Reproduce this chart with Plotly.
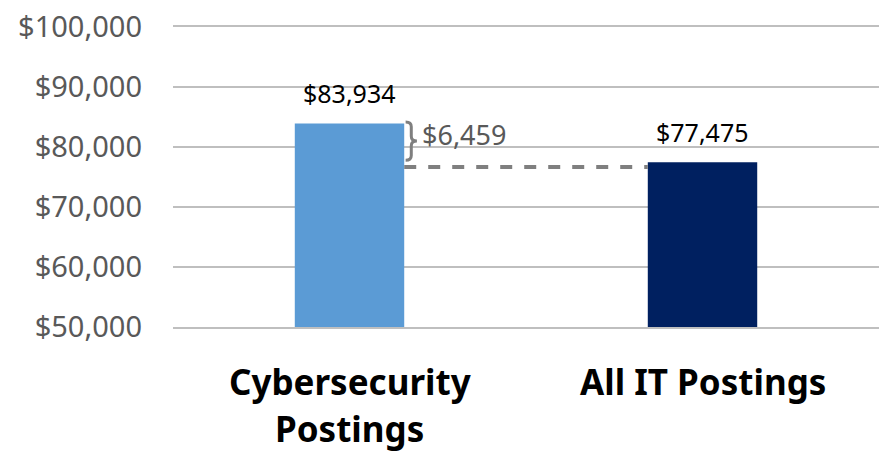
import plotly.graph_objects as go

categories = ["Cybersecurity Postings", "All IT Postings"]
label_lines = [["Cybersecurity", "Postings"], ["All IT Postings"]]
salaries = [83934, 77475]
bar_colors = ["#5B9BD5", "#002060"]
y_tick_vals = [50000, 60000, 70000, 80000, 90000, 100000]
y_tick_text = ["$50,000", "$60,000", "$70,000", "$80,000", "$90,000", "$100,000"]

FONT = "Noto Sans, Open Sans, sans-serif"
x_pos = list(range(len(categories)))
bar_w = 0.31
diff = salaries[0] - salaries[1]

fig = go.Figure()
fig.add_trace(go.Bar(
    x=x_pos, y=salaries, width=bar_w,
    marker=dict(color=bar_colors, line=dict(width=0)),
    cliponaxis=False, hoverinfo="skip",
))

# value labels above bars
for i, v in enumerate(salaries):
    fig.add_annotation(x=x_pos[i], y=v, xref="x", yref="y", text=f"${v:,}",
                       showarrow=False, yanchor="bottom", yshift=11,
                       font=dict(family=FONT, size=25, color="#000000"))

# dashed reference line from bar 1 edge to bar 2 edge at the lower value
fig.add_shape(type="line", xref="x", yref="y",
              x0=x_pos[0] + bar_w / 2, x1=x_pos[1] - bar_w / 2,
              y0=salaries[1] - 800, y1=salaries[1] - 800,
              line=dict(color="#7F7F7F", width=4, dash="dash"))

# curly brace between the two values
xL = x_pos[0] + bar_w / 2 + 0.004
xm = xL + 0.016
xT = xL + 0.032
yT = salaries[0] + 250
yB = salaries[1] + 300
yM = (yT + yB) / 2
d = 800
path = (f"M {xL},{yT} Q {xm},{yT} {xm},{yT-d} L {xm},{yM+d} Q {xm},{yM} {xT},{yM} "
        f"Q {xm},{yM} {xm},{yM-d} L {xm},{yB+d} Q {xm},{yB} {xL},{yB}")
fig.add_shape(type="path", xref="x", yref="y", path=path,
              line=dict(color="#7F7F7F", width=3))

fig.add_annotation(x=xT, y=yM, xref="x", yref="y", text=f"${diff:,}",
                   showarrow=False, xanchor="left", xshift=3, yshift=7,
                   font=dict(family=FONT, size=27, color="#595959"))

# category labels
for i, lines in enumerate(label_lines):
    for j, line in enumerate(lines):
        fig.add_annotation(x=x_pos[i], y=0, xref="x", yref="paper", text=f"<b>{line}</b>",
                           showarrow=False, yanchor="middle", yshift=-54 - 47 * j,
                           font=dict(family=FONT, size=35, color="#000000"))

fig.update_layout(
    width=885, height=451,
    margin=dict(l=173, r=6, t=23, b=124),
    paper_bgcolor="white", plot_bgcolor="white",
    showlegend=False,
    xaxis=dict(range=[-0.5, 1.5], tickvals=x_pos, showticklabels=False,
               showgrid=False, zeroline=False, showline=True, mirror=True,
               linecolor="#BFBFBF", linewidth=1.5),
    yaxis=dict(range=[50000, 100000], tickvals=y_tick_vals, ticktext=y_tick_text,
               showgrid=True, gridcolor="#BFBFBF", gridwidth=1.5, zeroline=False,
               ticklabelstandoff=30,
               tickfont=dict(family=FONT, size=29, color="#595959")),
)

fig.write_html("out.html", config={"displayModeBar": False},
               post_script="document.body.style.margin='0';")
